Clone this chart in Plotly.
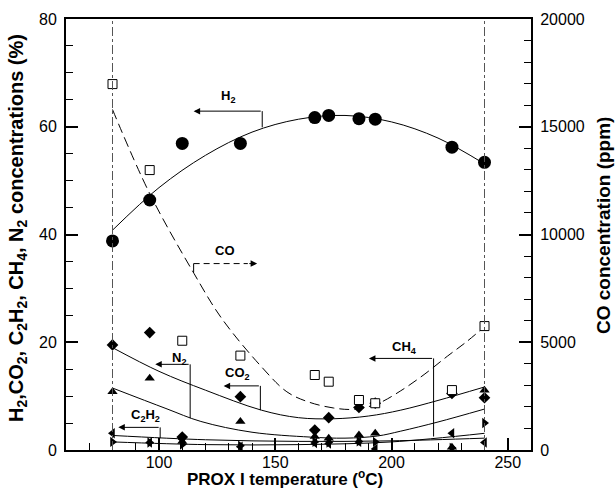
import plotly.graph_objects as go

# ---- data ----
temp = [80, 96, 110, 135, 167, 173, 186, 193, 226, 240]
h2 = [38.8, 46.4, 56.9, 56.9, 61.7, 62.1, 61.5, 61.4, 56.2, 53.4]
co_ppm = [16980, 12990, 5070, 4380, 3480, 3170, 2320, 2170, 2780, 5750]
co2 = [19.5, 21.8, 2.4, 9.9, 3.7, 6.0, 7.9, 8.7, 10.5, 9.7]
n2 = [10.8, 13.3, 1.6, 5.3, 2.5, 2.2, 2.8, 3.1, 0.5, 11.1]
c2h2 = [3.1, 1.4, 2.0, 0.6, 1.3, 1.2, 1.5, 0.2, 3.1, 1.4]
ch4 = [1.5, 1.4, 1.0, 0.8, 1.5, 1.4, 1.6, 1.5, 0.4, 5.0]

# fitted trend curves
h2_fit_t = [80, 100, 120, 140, 160, 180, 200, 220, 240]
h2_fit = [40.8, 48.7, 54.7, 59.0, 61.4, 62.1, 60.9, 57.9, 53.1]
co_fit_t = [80, 96, 115, 127, 144, 155, 164, 175, 184, 194, 204, 214, 224, 232, 240]
co_fit = [15800, 11900, 8200, 6100, 3870, 2700, 2240, 1950, 1890, 2150, 2750, 3500, 4350, 5000, 5720]
co2_fit_t = [80, 100, 120, 144, 160, 175, 190, 204, 220, 240]
co2_fit = [19.0, 14.6, 11.1, 7.4, 6.0, 5.8, 6.3, 7.4, 9.2, 11.7]
n2_fit_t = [80, 103, 118, 140, 165, 180, 194, 204, 220, 240]
n2_fit = [11.5, 7.7, 5.3, 3.3, 2.4, 2.2, 2.6, 3.5, 5.2, 7.6]
c2h2_fit_t = [80, 120, 160, 200, 240]
c2h2_fit = [2.7, 1.9, 1.6, 1.7, 2.2]
ch4_fit_t = [80, 120, 160, 200, 240]
ch4_fit = [1.5, 1.0, 1.0, 1.5, 3.1]

x_ticks = [100, 150, 200, 250]
y_ticks = [0, 20, 40, 60, 80]
y2_ticks = [0, 5000, 10000, 15000, 20000]
y2_labels = ["0", "5000", "10000", "15000", "20000"]

x_title = "<b>PROX I temperature (<sup>o</sup>C)</b>"
y_title = ("<b>H<sub>2</sub>,CO<sub>2</sub>, C<sub>2</sub>H<sub>2</sub>, CH<sub>4</sub>, "
           "N<sub>2</sub> concentrations (%)</b>")
y2_title = "<b>CO concentration (ppm)</b>"

FONT = "Liberation Sans, Arial, sans-serif"
fig = go.Figure()

def fit(t, v, dash="solid", yaxis="y"):
    fig.add_trace(go.Scatter(x=t, y=v, mode="lines", yaxis=yaxis,
                             line=dict(color="black", width=1, dash=dash, shape="spline"),
                             hoverinfo="skip"))

fit(h2_fit_t, h2_fit)
fit(co2_fit_t, co2_fit)
fit(n2_fit_t, n2_fit)
fit(c2h2_fit_t, c2h2_fit)
fit(ch4_fit_t, ch4_fit)
fit(co_fit_t, co_fit, dash="10px,5px", yaxis="y2")

def pts(v, sym, size, yaxis="y", open_=False):
    if open_:
        m = dict(symbol=sym, size=size, color="white", line=dict(color="black", width=1))
    else:
        m = dict(symbol=sym, size=size, color="black", line=dict(width=0))
    fig.add_trace(go.Scatter(x=temp, y=v, mode="markers", yaxis=yaxis, marker=m))

pts(co_ppm, "square", 9, yaxis="y2", open_=True)
pts(h2, "circle", 13)
pts(co2, "diamond", 9)
pts(n2, "triangle-up", 9)
pts(c2h2, "triangle-left", 9)
pts(ch4, "triangle-right", 9)

shapes = []
for tx in (80, 240):
    shapes.append(dict(type="line", xref="x", yref="paper", x0=tx, x1=tx, y0=0, y1=1,
                       line=dict(color="#555555", width=1, dash="dashdot")))

def bracket(x_corner, y_top, y_bottom, x_tip, label, lx, ly, dashed=False):
    dash = "dash" if dashed else "solid"
    shapes.append(dict(type="line", xref="x", yref="y", x0=x_corner, x1=x_corner,
                       y0=y_top, y1=y_bottom, line=dict(color="black", width=1, dash=dash)))
    if dashed:
        shapes.append(dict(type="line", xref="x", yref="y", x0=x_corner, x1=x_tip - 4,
                           y0=y_top, y1=y_top, line=dict(color="black", width=1, dash="6px,4px")))
        fig.add_annotation(x=x_tip, y=y_top, ax=x_tip - 4, ay=y_top, axref="x", ayref="y",
                           xref="x", yref="y", text="", showarrow=True, arrowhead=2,
                           arrowsize=1.3, arrowwidth=1, arrowcolor="black")
    else:
        fig.add_annotation(x=x_tip, y=y_top, ax=x_corner, ay=y_top, axref="x", ayref="y",
                           xref="x", yref="y", text="", showarrow=True, arrowhead=2,
                           arrowsize=1.3, arrowwidth=1, arrowcolor="black")
    fig.add_annotation(x=lx, y=ly, xref="x", yref="y", text="<b>" + label + "</b>",
                       showarrow=False, font=dict(family=FONT, size=13, color="black"))

bracket(144.4, 62.9, 59.9, 114.9, "H<sub>2</sub>", 129.8, 65.6)
bracket(114.9, 34.6, 32.2, 142.2, "CO", 128.5, 37.0, dashed=True)
bracket(113.4, 15.9, 5.9, 98.4, "N<sub>2</sub>", 108.4, 17.0)
bracket(143.6, 11.9, 7.4, 127.8, "CO<sub>2</sub>", 133.6, 14.2)
bracket(100.5, 4.2, 2.2, 82.5, "C<sub>2</sub>H<sub>2</sub>", 94.1, 6.4)
bracket(218.1, 17.0, 2.5, 190.3, "CH<sub>4</sub>", 205.4, 19.0)

# axis titles as paper annotations
fig.add_annotation(x=0.471, y=-0.066, xref="paper", yref="paper", text=x_title, showarrow=False,
                   xanchor="center", yanchor="middle", font=dict(family=FONT, size=17, color="black"))
fig.add_annotation(x=-0.1054, y=0.515, xref="paper", yref="paper", text=y_title, showarrow=False,
                   textangle=-90, xanchor="center", yanchor="middle",
                   font=dict(family=FONT, size=20, color="black"))
fig.add_annotation(x=1.1548, y=0.522, xref="paper", yref="paper", text=y2_title, showarrow=False,
                   textangle=-90, xanchor="center", yanchor="middle",
                   font=dict(family=FONT, size=19, color="black"))

tickfont = dict(family=FONT, size=16, color="black")

fig.update_layout(
    width=615, height=490,
    margin=dict(l=66, r=84, t=19, b=40),
    paper_bgcolor="white", plot_bgcolor="white",
    showlegend=False, shapes=shapes,
    xaxis=dict(range=[60, 260], tickvals=x_ticks, ticks="inside", ticklen=12, tickwidth=2,
               tickcolor="black", showline=True, linewidth=2, linecolor="black", mirror=True,
               showgrid=False, zeroline=False, tickfont=tickfont, ticklabelstandoff=-3,
               automargin=False,
               minor=dict(dtick=10, tick0=0, ticks="inside", ticklen=7, tickwidth=1, tickcolor="black")),
    yaxis=dict(range=[0, 80], tickvals=y_ticks, ticks="inside", ticklen=12, tickwidth=2,
               tickcolor="black", showline=True, linewidth=2, linecolor="black",
               showgrid=False, zeroline=False, tickfont=tickfont,
               ticklabelstandoff=4, automargin=False,
               minor=dict(dtick=5, tick0=0, ticks="inside", ticklen=7, tickwidth=1, tickcolor="black")),
    yaxis2=dict(range=[0, 20000], tickvals=y2_ticks, ticktext=y2_labels, overlaying="y", side="right",
                ticks="inside", ticklen=12, tickwidth=2, tickcolor="black", showline=True, linewidth=2,
                linecolor="black", showgrid=False, zeroline=False, tickfont=tickfont,
                ticklabelstandoff=4, automargin=False,
                minor=dict(dtick=1000, tick0=0, ticks="inside", ticklen=7, tickwidth=1, tickcolor="black")),
)

fig.write_html("out.html")
